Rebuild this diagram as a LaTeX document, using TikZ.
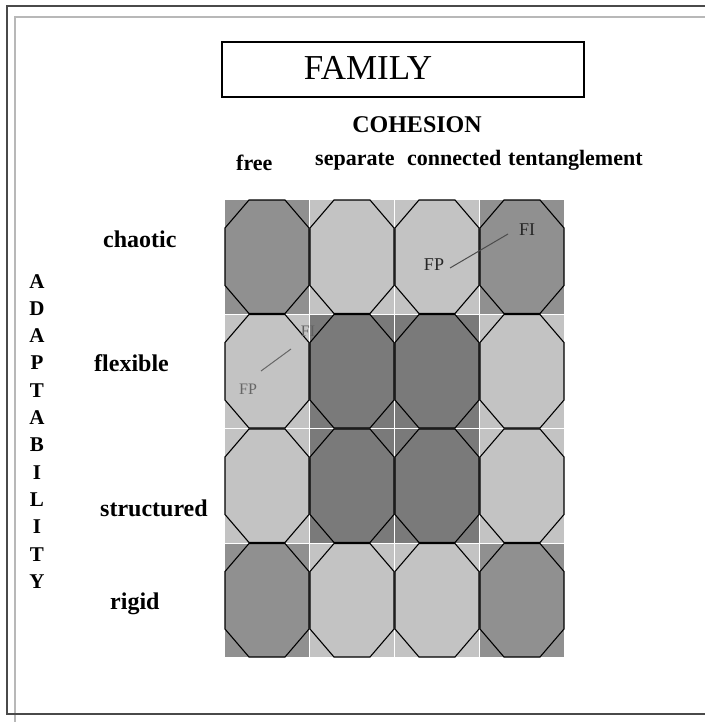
\documentclass[tikz,border=0pt]{standalone}
\usepackage{fontspec}
\setmainfont{Liberation Serif}
\definecolor{cL}{HTML}{C3C3C3}
\definecolor{cM}{HTML}{909090}
\definecolor{cD}{HTML}{7A7A7A}
\definecolor{frameDark}{HTML}{4A4A4A}
\definecolor{frameLight}{HTML}{B8B8B8}
\tikzset{
  lbl/.style={font=\fontsize{22}{24}\selectfont\bfseries, inner sep=0pt, anchor=base west},
  rlbl/.style={font=\fontsize{24}{26}\selectfont\bfseries, inner sep=0pt, anchor=base west},
  vletter/.style={font=\fontsize{21}{23}\selectfont\bfseries, inner sep=0pt, anchor=base},
  octo/.style={draw=black, line width=1.1pt, line join=miter},
  fptext/.style={font=\fontsize{18}{20}\selectfont, inner sep=0pt, anchor=center},
}
\begin{document}
\begin{tikzpicture}[x=1pt,y=-1pt]
\useasboundingbox (0,0) rectangle (704,722);
% page frames
\draw[frameLight, line width=1.5pt] (15,730) -- (15,17) -- (712,17);
\draw[frameDark, line width=2pt] (712,6) -- (7,6) -- (7,714) -- (712,714);
% title box
\node[draw=black, line width=1.3pt, minimum width=362pt, minimum height=55pt, inner sep=0pt] (family) at (403,69.5) {};
\node[font=\fontsize{35}{37}\selectfont, inner sep=0pt, anchor=base] (familytxt) at (368,80) {FAMILY};
% headings
\node[font=\fontsize{24}{26}\selectfont\bfseries, inner sep=0pt, anchor=base] (cohesion) at (417,133) {COHESION};
\node[lbl] (free) at (236,171) {free};
\node[lbl] (separate) at (315,165) {separate};
\node[lbl] (connected) at (407,165) {connected};
\node[lbl] (tent) at (508,165) {tentanglement};
\node[rlbl] (chaotic) at (103,247) {chaotic};
\node[rlbl] (flexible) at (94,371) {flexible};
\node[rlbl] (structured) at (100,516) {structured};
\node[rlbl] (rigid) at (110,609) {rigid};
% ADAPTABILITY
\foreach \ch [count=\i from 0] in {A,D,A,P,T,A,B,I,L,I,T,Y}
  \node[vletter] (ad\i) at (37,{288+27.3*\i}) {\ch};
% grid cells
\foreach \r/\row in {0/{cM,cL,cL,cM},1/{cL,cD,cD,cL},2/{cL,cD,cD,cL},3/{cM,cL,cL,cM}}{
  \foreach \c [count=\k from 0] in \row {
    \pgfmathsetmacro{\xa}{225+85*\k}
    \pgfmathsetmacro{\xb}{\xa+84}
    \pgfmathsetmacro{\ya}{200+114.5*\r}
    \pgfmathsetmacro{\yb}{\ya+113.5}
    \fill[\c] (\xa,\ya) rectangle (\xb,\yb);
    \draw[octo, fill=\c] (\xa+24,\ya) -- (\xb-24,\ya) -- (\xb,\ya+28) -- (\xb,\yb-28)
      -- (\xb-24,\yb) -- (\xa+24,\yb) -- (\xa,\yb-28) -- (\xa,\ya+28) -- cycle;
  }
}
% FP / FI in chaotic row
\node[fptext, text=black!85] (fp1) at (434,265) {FP};
\node[fptext, text=black!85] (fi1) at (527,230) {FI};
\coordinate (fp1e) at (450,268);
\coordinate (fi1w) at (508,234);
\draw[black!70, line width=1pt] (fp1e) -- (fi1w);
% FP / FI in flexible row
\node[fptext, font=\fontsize{16}{18}\selectfont, text=black!62] (fi2) at (308,331) {FI};
\node[fptext, font=\fontsize{16}{18}\selectfont, text=black!60] (fp2) at (248,389) {FP};
\coordinate (fp2e) at (261,371);
\coordinate (fi2w) at (291,349);
\draw[black!60, line width=1pt] (fp2e) -- (fi2w);
\end{tikzpicture}
\end{document}
